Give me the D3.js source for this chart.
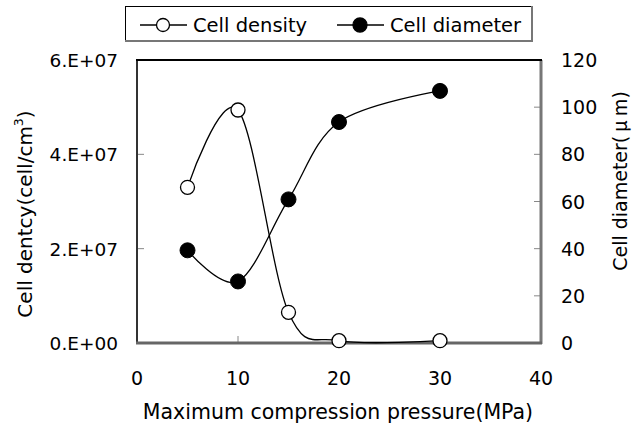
<!DOCTYPE html>
<html>
<head>
<meta charset="utf-8">
<script src="https://cdn.jsdelivr.net/npm/d3@7"></script>
<style>
  body { margin: 0; background: #fff; }
  svg text { font-family: "DejaVu Sans", sans-serif; fill: #000; }
</style>
</head>
<body>
<svg id="chart" width="635" height="425"></svg>
<script>
// ---- data ----
const pressure = [5, 10, 15, 20, 30];
const cellDensity = [3.3e7, 4.94e7, 0.65e7, 0.05e7, 0.05e7];
const cellDiameter = [39.3, 26.1, 60.9, 93.7, 106.9];
const xTicks = [0, 10, 20, 30, 40];
const yLeftTicks = [0, 2e7, 4e7, 6e7];
const yLeftTickLabels = ["0.E+00", "2.E+07", "4.E+07", "6.E+07"];
const yRightTicks = [0, 20, 40, 60, 80, 100, 120];
const seriesNames = ["Cell density", "Cell diameter"];

const svg = d3.select("#chart");
const L = 137, R = 541, T = 60, B = 343;

const x = d3.scaleLinear().domain([0, 40]).range([L, R]);
const yL = d3.scaleLinear().domain([0, 6e7]).range([B, T]);
const yR = d3.scaleLinear().domain([0, 120]).range([B, T]);

// ticks (inward)
const g = svg.append("g");
g.selectAll(".tl").data(yLeftTicks.slice(1, -1)).join("line")
  .attr("x1", L).attr("x2", L + 7).attr("y1", d => yL(d)).attr("y2", d => yL(d))
  .attr("stroke", "#888").attr("stroke-width", 1);
g.selectAll(".tr").data(yRightTicks.slice(1, -1)).join("line")
  .attr("x1", R - 7).attr("x2", R).attr("y1", d => yR(d)).attr("y2", d => yR(d))
  .attr("stroke", "#888").attr("stroke-width", 1);
g.selectAll(".tb").data(xTicks.slice(1, -1)).join("line")
  .attr("x1", d => x(d)).attr("x2", d => x(d)).attr("y1", B).attr("y2", B - 7)
  .attr("stroke", "#888").attr("stroke-width", 1);

// frame
svg.append("line").attr("x1", L).attr("x2", L).attr("y1", T).attr("y2", B).attr("stroke", "#333").attr("stroke-width", 2);
svg.append("line").attr("x1", R).attr("x2", R).attr("y1", T).attr("y2", B + 1).attr("stroke", "#777").attr("stroke-width", 3);
svg.append("line").attr("x1", L - 1).attr("x2", R + 1).attr("y1", B).attr("y2", B).attr("stroke", "#666").attr("stroke-width", 3);
svg.append("line").attr("x1", L - 1).attr("x2", R + 1).attr("y1", T).attr("y2", T).attr("stroke", "#000").attr("stroke-width", 2);

// tick labels
svg.selectAll(".xl").data(xTicks).join("text")
  .attr("x", d => x(d)).attr("y", 385).attr("text-anchor", "middle")
  .attr("font-size", 19).text(d => d);
svg.selectAll(".yll").data(yLeftTicks).join("text")
  .attr("x", 118).attr("y", d => yL(d) + 7).attr("text-anchor", "end")
  .attr("font-size", 18.5).text((d, i) => yLeftTickLabels[i]);
svg.selectAll(".yrl").data(yRightTicks).join("text")
  .attr("x", 561).attr("y", d => yR(d) + 7).attr("text-anchor", "start")
  .attr("font-size", 19).text(d => d);

// axis titles
svg.append("text").attr("x", 338).attr("y", 419).attr("text-anchor", "middle")
  .attr("font-size", 20.5).text("Maximum compression pressure(MPa)");
const lt = svg.append("text").attr("transform", "translate(32,214) rotate(-90)")
  .attr("text-anchor", "middle").attr("font-size", 20);
lt.append("tspan").text("Cell dentcy(cell/cm");
lt.append("tspan").attr("font-size", 12.5).attr("dy", -9).text("3");
lt.append("tspan").attr("dy", 9).text(")");
const rt = svg.append("text").attr("transform", "translate(627,181) rotate(-90)")
  .attr("text-anchor", "middle").attr("font-size", 19);
rt.append("tspan").text("Cell diameter(");
rt.append("tspan").style("font-family", "'Noto Sans CJK JP', sans-serif").text("\u2009\u03bc\u2009m");
rt.append("tspan").text(")");

// lines
const line = (ys) => d3.line().x((d, i) => x(pressure[i])).y(d => ys(d)).curve(d3.curveCatmullRom.alpha(0));
svg.append("path").datum(cellDensity).attr("d", line(yL)).attr("fill", "none").attr("stroke", "#000").attr("stroke-width", 1.3);
svg.append("path").datum(cellDiameter).attr("d", line(yR)).attr("fill", "none").attr("stroke", "#000").attr("stroke-width", 1.3);

// markers
svg.selectAll(".md").data(cellDensity).join("circle")
  .attr("cx", (d, i) => x(pressure[i])).attr("cy", d => yL(d)).attr("r", 7)
  .attr("fill", "#fff").attr("stroke", "#000").attr("stroke-width", 1.3);
svg.selectAll(".mm").data(cellDiameter).join("circle")
  .attr("cx", (d, i) => x(pressure[i])).attr("cy", d => yR(d)).attr("r", 7.5)
  .attr("fill", "#000").attr("stroke", "#000").attr("stroke-width", 1);

// legend
const lg = svg.append("g");
lg.append("line").attr("x1", 125).attr("x2", 533).attr("y1", 6.5).attr("y2", 6.5).attr("stroke", "#000").attr("stroke-width", 1);
lg.append("line").attr("x1", 125.5).attr("x2", 125.5).attr("y1", 6).attr("y2", 42).attr("stroke", "#000").attr("stroke-width", 1);
lg.append("line").attr("x1", 532).attr("x2", 532).attr("y1", 6).attr("y2", 42).attr("stroke", "#777").attr("stroke-width", 2);
lg.append("line").attr("x1", 125).attr("x2", 533).attr("y1", 41).attr("y2", 41).attr("stroke", "#777").attr("stroke-width", 2);
const legX = [140, 337];
seriesNames.forEach((name, i) => {
  lg.append("line").attr("x1", legX[i]).attr("x2", legX[i] + 47).attr("y1", 25).attr("y2", 25).attr("stroke", "#000").attr("stroke-width", 1.3);
  lg.append("circle").attr("cx", legX[i] + 23).attr("cy", 25).attr("r", i === 0 ? 6.5 : 7)
    .attr("fill", i === 0 ? "#fff" : "#000").attr("stroke", "#000").attr("stroke-width", 1.3);
  lg.append("text").attr("x", legX[i] + 53).attr("y", 32).attr("font-size", 19.5).text(name);
});
</script>
</body>
</html>
